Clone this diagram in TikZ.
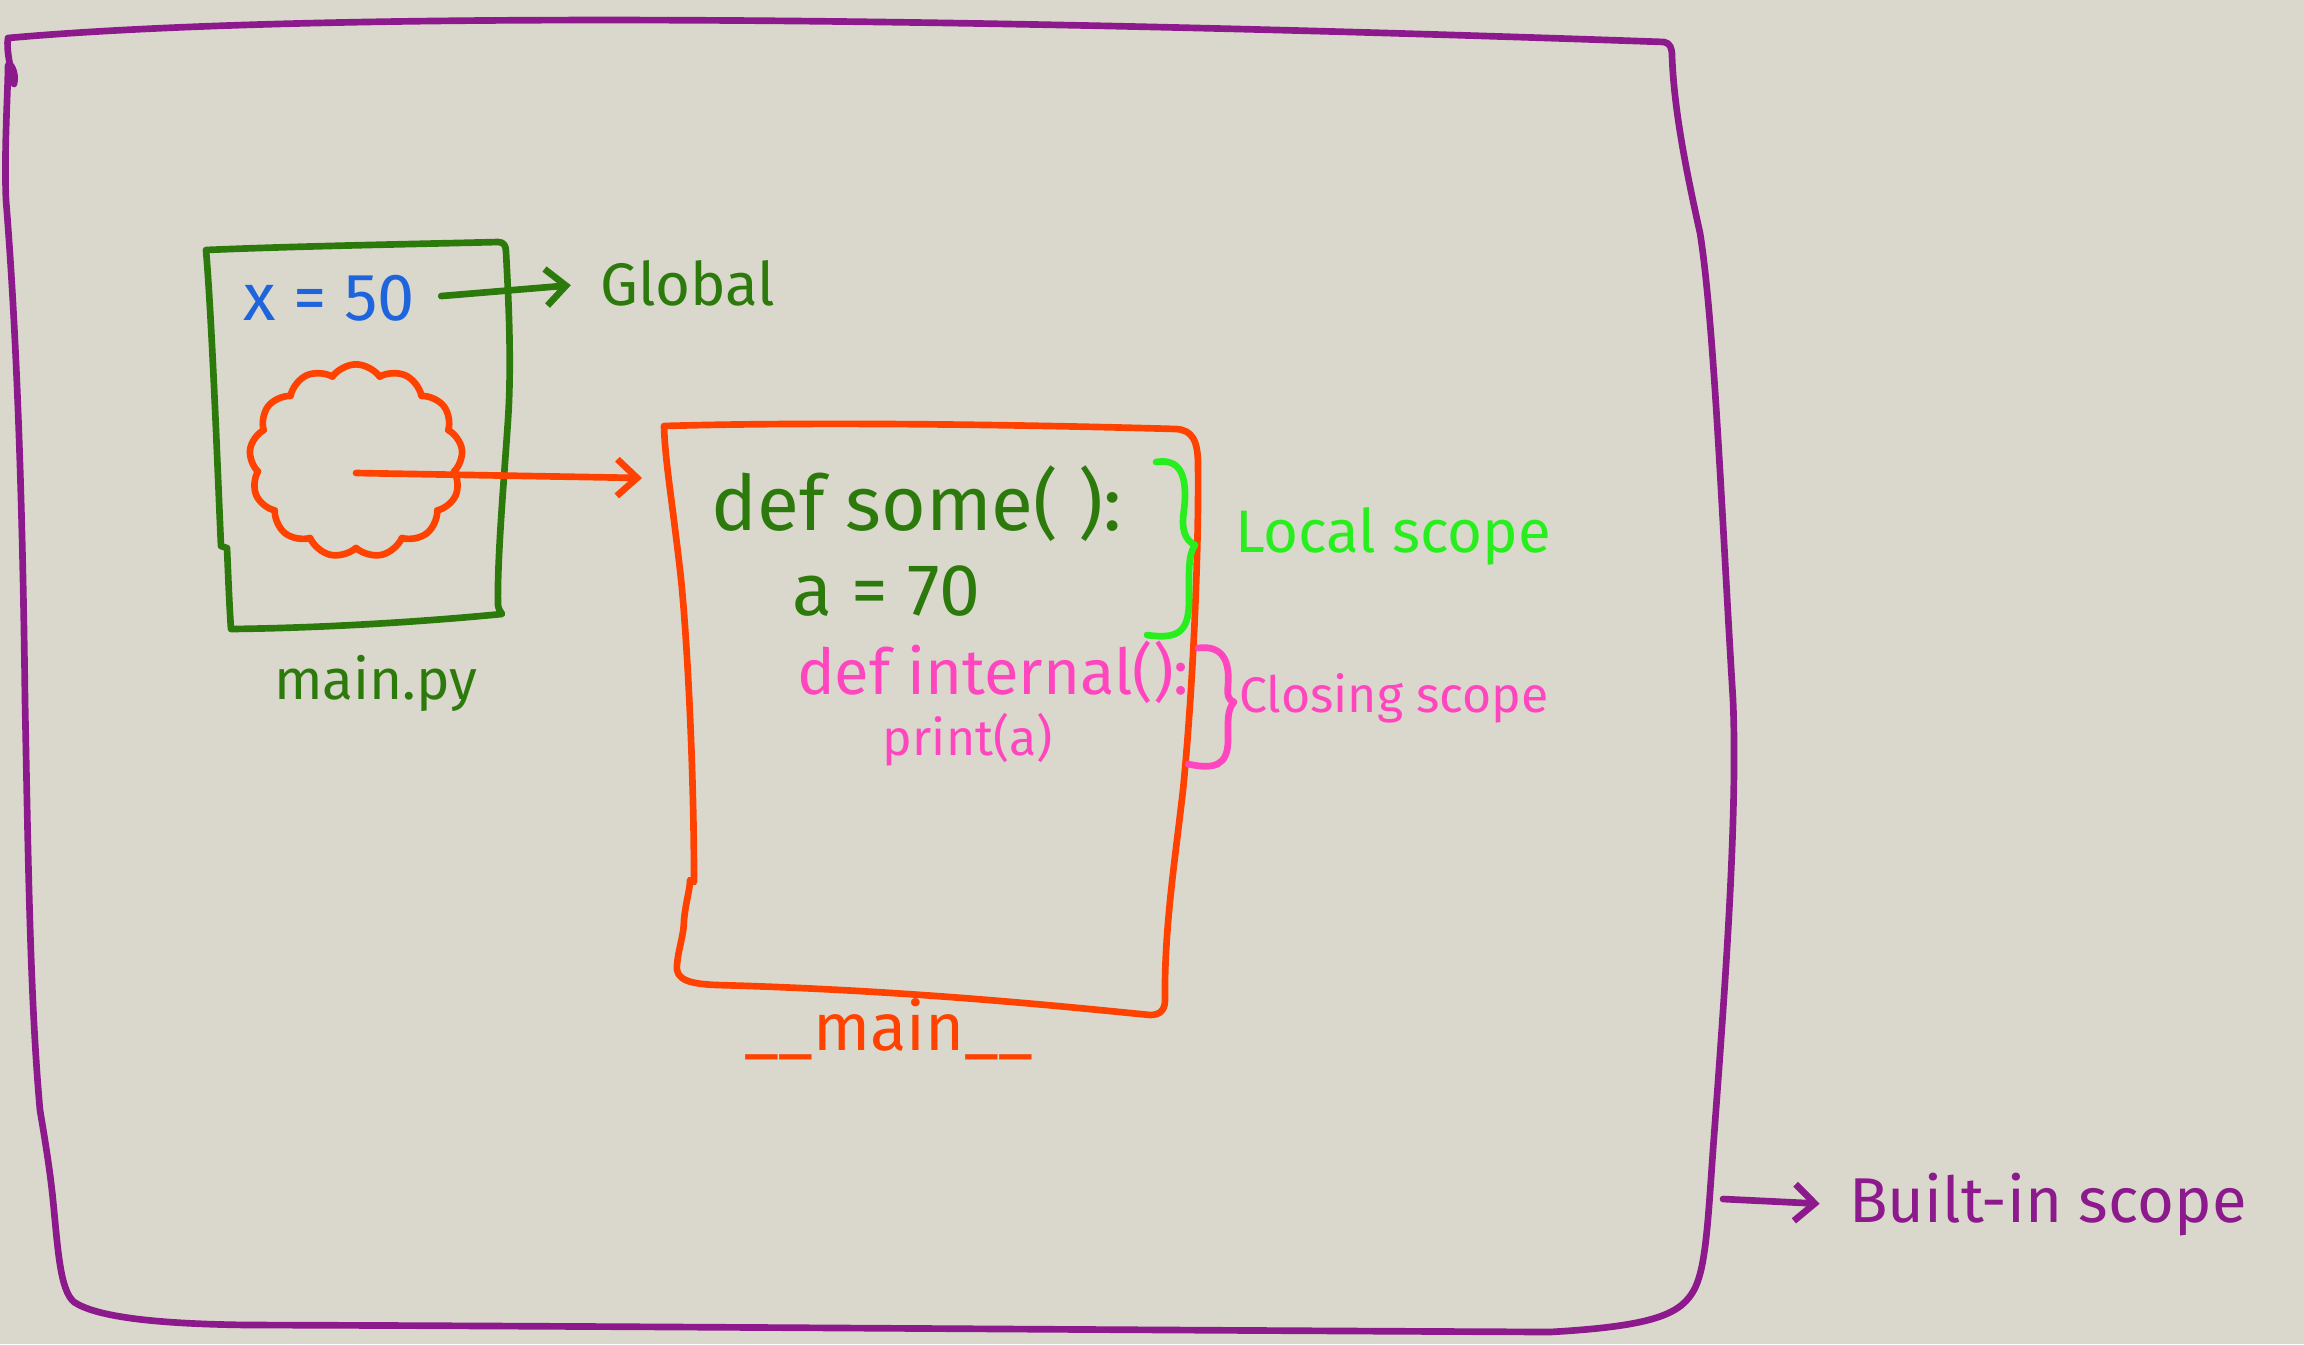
\documentclass[tikz,border=0pt]{standalone}
\usepackage{fontspec}
\setmainfont{Fira Sans}
\usetikzlibrary{arrows.meta,shapes.symbols}

\definecolor{paper}{RGB}{218,216,204}
\definecolor{scopepurple}{RGB}{140,26,140}
\definecolor{filegreen}{RGB}{45,122,12}
\definecolor{varblue}{RGB}{30,100,220}
\definecolor{mainred}{RGB}{255,66,0}
\definecolor{localgreen}{RGB}{40,238,30}
\definecolor{closepink}{RGB}{255,70,190}

\tikzset{
  pen/.style={line width=2pt, line cap=round, line join=round},
  barb/.style={-{Straight Barb[length=6pt,width=11pt]}},
  hand/.style={inner sep=0.75pt, font=\fontsize{#1}{#1}\selectfont},
}

\begin{document}
\begin{tikzpicture}[x=0.3pt,y=0.3pt,yscale=-1,xscale=1]
\useasboundingbox (0,0) rectangle (2304,1344);
\fill[paper] (0,0) rectangle (2304,1344);

%Shape: built-in box
\draw[pen, scopepurple] (8,38) .. controls (300,12) and (900,15) .. (1664,42) .. controls (1670,43) and (1672,48) .. (1672,56) .. controls (1674,110) and (1686,170) .. (1700,233) .. controls (1714,320) and (1722,520) .. (1733,700) .. controls (1738,820) and (1724,1000) .. (1713,1150) .. controls (1708,1220) and (1706,1265) .. (1695,1288) .. controls (1682,1314) and (1655,1326) .. (1550,1332) .. controls (1100,1330) and (600,1326) .. (250,1325) .. controls (150,1324) and (95,1316) .. (74,1302) .. controls (60,1290) and (58,1250) .. (53,1200) .. controls (50,1170) and (45,1140) .. (40,1110) .. controls (30,1000) and (28,850) .. (25,700) .. controls (22,450) and (14,300) .. (6,200) .. controls (4,150) and (8,90) .. (8,66) .. controls (9,60) and (17,72) .. (14,84) .. controls (11,70) and (6,50) .. (8,38);
%Shape: main.py box
\draw[pen, filegreen] (206,250) .. controls (300,246) and (420,244) .. (498,242) .. controls (504,242) and (506,246) .. (506,252) .. controls (508,290) and (512,360) .. (508,420) .. controls (504,480) and (497,560) .. (498,605) .. controls (499,612) and (502,612) .. (502,614) .. controls (420,622) and (320,628) .. (231,629) .. controls (229,600) and (228,570) .. (227,548) -- (221,546) .. controls (218,480) and (212,320) .. (206,250);
%Shape: __main__ box
\draw[pen, mainred] (664,426) .. controls (800,422) and (1000,424) .. (1176,429) .. controls (1192,430) and (1198,440) .. (1198,465) .. controls (1199,560) and (1192,700) .. (1183,790) .. controls (1175,860) and (1164,930) .. (1165,1000) .. controls (1165,1010) and (1160,1015) .. (1150,1015) .. controls (1050,1005) and (900,990) .. (717,985) .. controls (690,984) and (675,980) .. (677,965) .. controls (678,950) and (684,935) .. (684,920) .. controls (686,900) and (690,890) .. (690,880) -- (694,882) .. controls (694,760) and (686,620) .. (680,570) .. controls (672,500) and (665,460) .. (664,426);
%Curve Lines: local brace
\draw[pen, localgreen] (1156,462) .. controls (1180,458) and (1188,475) .. (1184,510) .. controls (1181,530) and (1185,540) .. (1195,545) .. controls (1188,555) and (1189,570) .. (1189,600) .. controls (1189,630) and (1180,640) .. (1147,635);
%Curve Lines: closing brace
\draw[pen, closepink] (1198,648) .. controls (1222,645) and (1230,660) .. (1228,685) .. controls (1227,695) and (1228,700) .. (1234,702) .. controls (1227,710) and (1228,720) .. (1228,740) .. controls (1228,765) and (1215,770) .. (1188,764);

%Shape: cloud
\node[cloud, cloud puffs=13, cloud puff arc=110, draw=mainred, pen, minimum width=64pt, minimum height=58pt, inner sep=0pt] (cloud) at (356,461) {};

% Text Node
\node[hand=20, varblue] (x50) at (329,298) {x = 50};
\node[hand=18, filegreen] (global) at (688,283) {Global};
\node[hand=17, filegreen] (mainpy) at (376,683) {main.py};
\node[hand=23, filegreen] (defsome) at (917,504) {def some( ):};
\node[hand=22, filegreen] (aseventy) at (886,591) {a = 70};
\node[hand=18, localgreen] (localscope) at (1393,536) {Local scope};
\node[hand=19, closepink] (definternal) at (993,672) {def internal():};
\node[hand=15, closepink] (printa) at (968,740) {print(a)};
\node[hand=15, closepink] (closing) at (1394,698) {Closing scope};
\node[hand=20, mainred] (mainlabel) at (889,1029) {\_\_main\_\_};
\node[hand=19, scopepurple] (builtin) at (2048,1205) {Built-in scope};

% Arrows
\coordinate (mainin) at (642,478);
\coordinate (bistart) at (1723,1199);
\draw[pen, filegreen, barb, shorten <=7pt, shorten >=8pt] (x50.east) -- (global.west);
\draw[pen, mainred, barb] ([yshift=3.6pt]cloud.center) -- (mainin);
\draw[pen, scopepurple, barb, shorten >=8pt] (bistart) -- (builtin.west);

\end{tikzpicture}
\end{document}
